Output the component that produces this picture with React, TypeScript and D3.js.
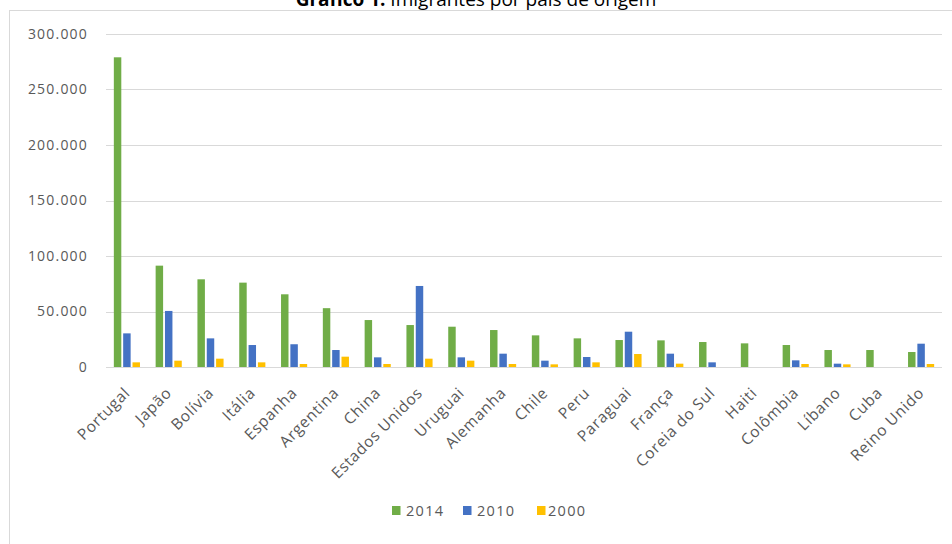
import React from "react";
import * as d3 from "d3";

const categories = ["Portugal","Japão","Bolívia","Itália","Espanha","Argentina","China","Estados Unidos","Uruguai","Alemanha","Chile","Peru","Paraguai","França","Coreia do Sul","Haiti","Colômbia","Líbano","Cuba","Reino Unido"];
const seriesNames = ["2014","2010","2000"];
const values2014 = [279000,91300,79000,76000,65500,53000,42300,37800,36300,33300,28500,25800,24300,24000,22500,21300,19800,15300,15300,13500];
const values2010 = [30300,50500,25800,19800,20500,15300,8700,73000,8700,12000,5700,9000,31800,12000,4200,0,6000,3000,0,21000];
const values2000 = [4200,5700,7500,4200,2700,9300,2700,7500,5700,2700,2400,4200,11700,3000,0,0,2700,2400,0,2700];
const yTicks = [0,50000,100000,150000,200000,250000,300000];
const colors = ["#70AD47","#4472C4","#FFC000"];

const W = 952, H = 544;
const plotL = 106, plotR = 942, y0 = 367, yTop = 34;

export default function App() {
  const seriesValues = [values2014, values2010, values2000];
  const x = d3.scaleBand<string>().domain(categories).range([plotL, plotR]).paddingInner(0.375).paddingOuter(0.1875);
  const xs = d3.scaleBand<string>().domain(seriesNames).range([0, x.bandwidth()]).paddingInner(0.2);
  const y = d3.scaleLinear().domain([0, 300000]).range([y0, yTop]);
  const fmt = (v: number) => (v === 0 ? "0" : d3.format(",")(v).replace(/,/g, "."));
  const txt = "#595959";
  const font = "'Open Sans', sans-serif";

  const legendItems = [
    { name: "2014", sx: 392, tx: 406 },
    { name: "2010", sx: 463, tx: 477 },
    { name: "2000", sx: 537, tx: 548 },
  ];

  return (
    <svg width={W} height={H} style={{ position: "absolute", left: 0, top: 0, background: "#fff" }} fontFamily={font}>
      <rect x={0} y={0} width={W} height={H} fill="#fff" />
      <rect x={9.5} y={10.5} width={W} height={H} fill="#fff" stroke="#d9d9d9" />
      <text x={476} y={6} textAnchor="middle" fontSize={19} fill="#000">
        <tspan fontWeight="bold">Gráfico 1:</tspan>
        <tspan> Imigrantes por país de origem</tspan>
      </text>
      {yTicks.map((t) => (
        <g key={t}>
          <line x1={plotL} x2={plotR} y1={Math.round(y(t)) + 0.5} y2={Math.round(y(t)) + 0.5} stroke="#d9d9d9" strokeWidth={1} />
          <text x={88} y={y(t)} dy="0.35em" textAnchor="end" fontSize={14} letterSpacing={1.2} fill={txt}>{fmt(t)}</text>
        </g>
      ))}
      {categories.map((c, i) => (
        <g key={c}>
          {seriesNames.map((s, j) => {
            const v = seriesValues[j][i];
            if (!v) return null;
            return (
              <rect key={s} x={(x(c) as number) + (xs(s) as number)} y={y(v)} width={xs.bandwidth()} height={y0 - y(v)} fill={colors[j]} />
            );
          })}
        </g>
      ))}
      {categories.map((c) => {
        const cx = (x(c) as number) + x.bandwidth() / 2;
        return (
          <text key={c} transform={`translate(${cx + 4},${y0 + 27}) rotate(-45)`} textAnchor="end" fontSize={15.5} letterSpacing={0.7} fill={txt}>{c}</text>
        );
      })}
      {legendItems.map((l, i) => (
        <g key={l.name}>
          <rect x={l.sx} y={506} width={8.5} height={9} fill={colors[i]} />
          <text x={l.tx} y={511} dy="0.35em" fontSize={14.5} letterSpacing={1.3} fill={txt}>{l.name}</text>
        </g>
      ))}
    </svg>
  );
}
